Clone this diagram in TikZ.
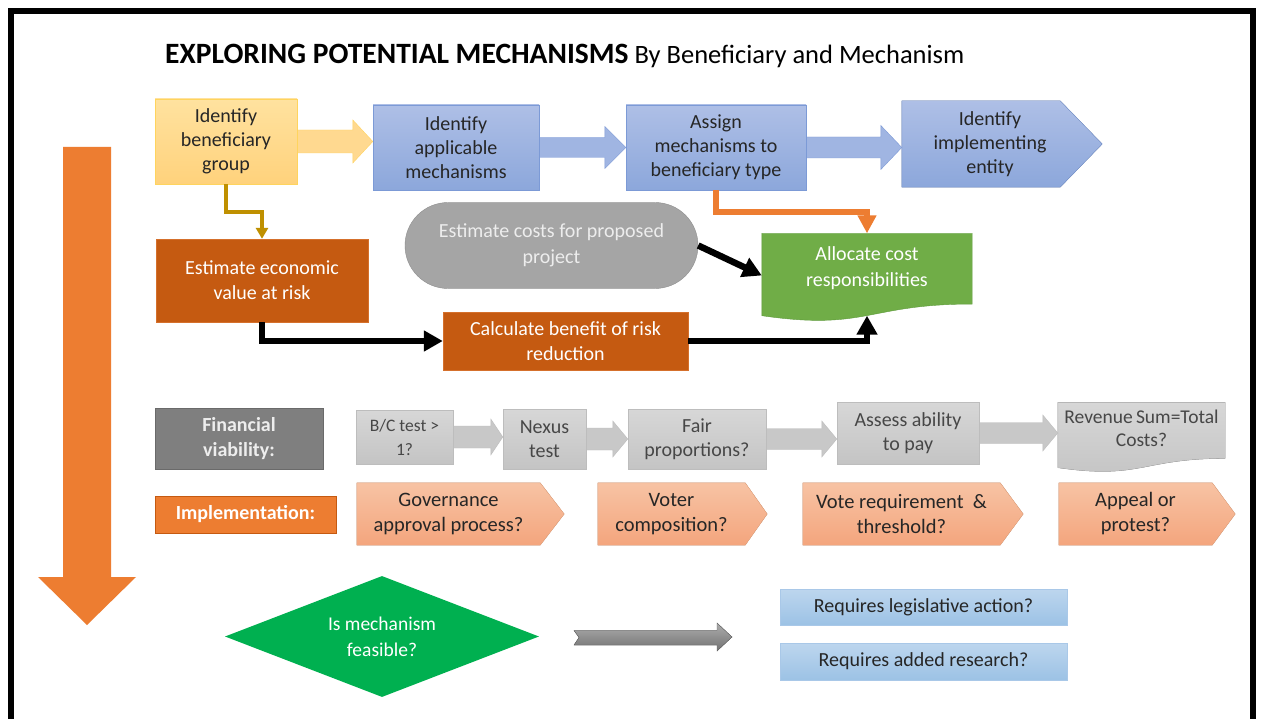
\documentclass[tikz,border=0pt]{standalone}
\usepackage{fontspec}
\setmainfont{Carlito}
\usetikzlibrary{shapes.geometric,arrows.meta,calc,backgrounds}
\pgfdeclarelayer{paper}
\pgfsetlayers{paper,background,main}
\definecolor{txt}{HTML}{262626}
\definecolor{ylwT}{HTML}{FFE29F}
\definecolor{ylwB}{HTML}{FFD27C}
\definecolor{ylwE}{HTML}{FFD45E}
\definecolor{bluT}{HTML}{AEBFE6}
\definecolor{bluB}{HTML}{8CA7DB}
\definecolor{bluE}{HTML}{7C9AD6}
\definecolor{rust}{HTML}{C55A11}
\definecolor{rustE}{HTML}{D5702C}
\definecolor{orng}{HTML}{ED7D31}
\definecolor{gold}{HTML}{BF9000}
\definecolor{midgray}{HTML}{A5A5A5}
\definecolor{midgrayE}{HTML}{8E8E8E}
\definecolor{leaf}{HTML}{70AD47}
\definecolor{leafE}{HTML}{5E9B3B}
\definecolor{dgray}{HTML}{7F7F7F}
\definecolor{dgrayE}{HTML}{6A6A6A}
\definecolor{lgT}{HTML}{D7D7D7}
\definecolor{lgB}{HTML}{C4C4C4}
\definecolor{lgE}{HTML}{BDBDBD}
\definecolor{lgA}{HTML}{C8C8C8}
\definecolor{pchT}{HTML}{F7C3A4}
\definecolor{pchB}{HTML}{F4A57D}
\definecolor{pchE}{HTML}{F3AE86}
\definecolor{emer}{HTML}{00B050}
\definecolor{skyT}{HTML}{BDD6EE}
\definecolor{skyB}{HTML}{9CC2E5}
\definecolor{skyE}{HTML}{A9C8E8}
\definecolor{lighttxt}{HTML}{EDEDED}
\tikzset{
  base/.style={align=center, inner sep=0pt, font=\fontsize{20}{24}\selectfont, text=txt},
  ylwbox/.style={base, draw=ylwE, top color=ylwT, bottom color=ylwB},
  blubox/.style={base, draw=bluE, top color=bluT, bottom color=bluB},
  rustbox/.style={base, draw=rustE, fill=rust, text=white, font=\fontsize{20}{25}\selectfont},
  lgbox/.style={base, draw=lgE, top color=lgT, bottom color=lgB, text=txt!85},
  invis/.style={base},
  pchtext/.style={base, font=\fontsize{20.5}{25}\selectfont},
  skybox/.style={base, draw=skyE, top color=skyT, bottom color=skyB},
  blk/.style={line width=6.5, -{Triangle[width=20,length=19]}},
}
\newcommand\blockarr[6]{%
  \filldraw[#1] let \p1=(#2), \p2=(#3) in
   (\x1,{\y1+#4}) -- ({\x2-#6},{\y1+#4}) -- ({\x2-#6},{\y1+#5}) -- (\x2,\y1)
   -- ({\x2-#6},{\y1-#5}) -- ({\x2-#6},{\y1-#4}) -- (\x1,{\y1-#4}) -- cycle;}
% #1 style, #2 node, #3 inset of the point start, #4 tip beyond east
\newcommand\pentshape[4]{%
  \filldraw[#1] (#2.north west) -- ([xshift=-#3]#2.north east) -- ([xshift=#4]#2.east)
   -- ([xshift=-#3]#2.south east) -- (#2.south west) -- cycle;}
\newcommand\docshape[2]{%
  \filldraw[#1] let \p1=(#2.north west), \p2=(#2.south east), \n1={(\y2-\y1)/0.934} in
   (\x1,\y1) -- (\x2,\y1) -- (\x2,{\y1+0.802*\n1})
   .. controls ({(\x1+\x2)/2},{\y1+0.802*\n1}) and ({(\x1+\x2)/2},{\y1+1.107*\n1}) .. (\x1,\y2) -- cycle;}
\begin{document}
\begin{tikzpicture}[x=1pt,y=-1pt]
\begin{pgfonlayer}{paper}
\fill[white] (0,0) rectangle (1263,719);
\end{pgfonlayer}
\useasboundingbox (0,0) rectangle (1263,719);
% frame
\draw[line width=6, line join=miter] (11,730) -- (11,11.5) -- (1253,11.5) -- (1253,730);
% title
\node[anchor=base west, inner sep=0pt, text=black] (title) at (165,64)
  {\fontsize{29.5}{32}\selectfont\bfseries EXPLORING POTENTIAL MECHANISMS\fontsize{26.5}{32}\selectfont\mdseries\ By Beneficiary and Mechanism};
% big orange arrow
\fill[orng] (63,147) -- (111,147) -- (111,577) -- (136,577) -- (87,625) -- (38,577) -- (63,577) -- cycle;
% top row
\node[ylwbox, minimum width=142, minimum height=85] (yb) at (226,141.5) {Identify\\beneficiary\\group};
\node[blubox, minimum width=166, minimum height=85] (am) at (456,147.5) {Identify\\applicable\\mechanisms};
\node[blubox, minimum width=180, minimum height=85] (asg) at (716,147.5) {Assign\\mechanisms to\\beneficiary type};
\node[invis, minimum width=176, minimum height=86] (ent) at (990,144) {Identify\\implementing\\entity};
% middle
\node[rustbox, minimum width=212, minimum height=83] (econ) at (262,280.5) {Estimate economic\\value at risk};
\node[base, draw=midgrayE, fill=midgray, text=lighttxt, rounded corners=43, minimum width=293, minimum height=86, font=\fontsize{20}{26}\selectfont] (cost) at (551.5,245.5) {Estimate costs for proposed\\project};
\node[base, text=white, minimum width=210, minimum height=82, text depth=15, font=\fontsize{20}{26}\selectfont] (alloc) at (867,274.5) {Allocate cost\\responsibilities};
\node[rustbox, minimum width=245, minimum height=58] (calc) at (565.5,341) {Calculate benefit of risk\\reduction};
% financial row
\node[base, draw=dgrayE, fill=dgray, text=lighttxt, font=\bfseries\fontsize{20}{25}\selectfont, minimum width=168, minimum height=61] (fin) at (239,438.5) {Financial\\viability:};
\node[lgbox, minimum width=97, minimum height=54, font=\fontsize{17.5}{24}\selectfont] (bc) at (404.5,437) {B/C test >\\1?};
\node[lgbox, minimum width=83, minimum height=60] (nex) at (544.5,439) {Nexus\\test};
\node[lgbox, minimum width=138, minimum height=60] (fair) at (697,439) {Fair\\proportions?};
\node[lgbox, minimum width=142, minimum height=62] (abil) at (908,433) {Assess ability\\to pay};
\node[base, text=txt!85, font=\fontsize{19.5}{23}\selectfont, minimum width=167, minimum height=65, text depth=13] (rev) at (1141.5,435) {Revenue\,Sum=Total\\Costs?};
% implementation row
\node[base, draw=rust, fill=orng, text=white, font=\bfseries\fontsize{20}{24}\selectfont, minimum width=181, minimum height=37] (impl) at (245.5,514.5) {Implementation:};
\node[pchtext, minimum width=183, minimum height=62] (gov) at (448.5,514) {Governance\\approval process?};
\node[pchtext, minimum width=147, minimum height=62] (vot) at (671.5,514) {Voter\\composition?};
\node[pchtext, minimum width=197, minimum height=62] (vreq) at (901.5,514) {Vote requirement \ \&\\threshold?};
\node[pchtext, minimum width=153, minimum height=62] (app) at (1135.5,514) {Appeal or\\protest?};
% bottom
\node[diamond, aspect=2.6, fill=emer, text=white, inner sep=0pt, minimum width=314, minimum height=121, align=center, font=\fontsize{19.5}{26}\selectfont] (feas) at (382,636.5) {Is mechanism\\feasible?};
\node[skybox, minimum width=287, minimum height=36] (leg) at (923.5,607) {Requires legislative action?};
\node[skybox, minimum width=287, minimum height=37] (res) at (923.5,661.5) {Requires added research?};
\filldraw[draw=gray!80!black, top color=gray!65, bottom color=gray!90!black] (574,630.5) -- (717,630.5) -- (717,623) -- (732,637) -- (717,651) -- (717,645) -- (574,645) -- (579,637.5) -- cycle;
% shapes behind
\begin{scope}[on background layer]
  \pentshape{draw=bluE, top color=bluT, bottom color=bluB}{ent}{18}{24}
  \docshape{draw=leafE, fill=leaf}{alloc}
  \docshape{draw=lgE, top color=lgT, bottom color=lgB}{rev}
  \pentshape{draw=pchE, top color=pchT, bottom color=pchB}{gov}{0}{24}
  \pentshape{draw=pchE, top color=pchT, bottom color=pchB}{vot}{0}{22}
  \pentshape{draw=pchE, top color=pchT, bottom color=pchB}{vreq}{0}{23}
  \pentshape{draw=pchE, top color=pchT, bottom color=pchB}{app}{0}{23}
  \blockarr{draw=ylwE, fill=ylwB!85!white}{yb.east}{am.west}{11.5}{21.5}{20}
  \blockarr{draw=bluE, fill=bluT!60!bluB}{am.east}{asg.west}{10}{21}{21}
  \blockarr{draw=bluE, fill=bluT!60!bluB}{asg.east}{ent.west}{10.5}{22}{21}
  \blockarr{draw=lgE, fill=lgA}{bc.east}{nex.west}{11}{18}{12}
  \blockarr{draw=lgE, fill=lgA}{nex.east}{fair.west}{11}{18}{15}
  \blockarr{draw=lgE, fill=lgA}{fair.east}{abil.west}{10.5}{18}{15}
  \blockarr{draw=lgE, fill=lgA}{abil.east}{rev.west}{10.5}{18}{15}
\end{scope}
% connectors
\draw[gold, line width=4, -{Triangle[width=12,length=11]}] (yb.south) -- ++(0,28) -| (econ.north);
\draw[orng, line width=6.5, -{Triangle[width=18,length=18]}] (asg.south) -- ++(0,22) -| (alloc.north);
\draw[blk] (cost.east) -- ([yshift=-1]alloc.west);
\draw[blk] (econ.south) |- (calc.west);
\draw[blk] (calc.east) -| (alloc.south);
\end{tikzpicture}
\end{document}
